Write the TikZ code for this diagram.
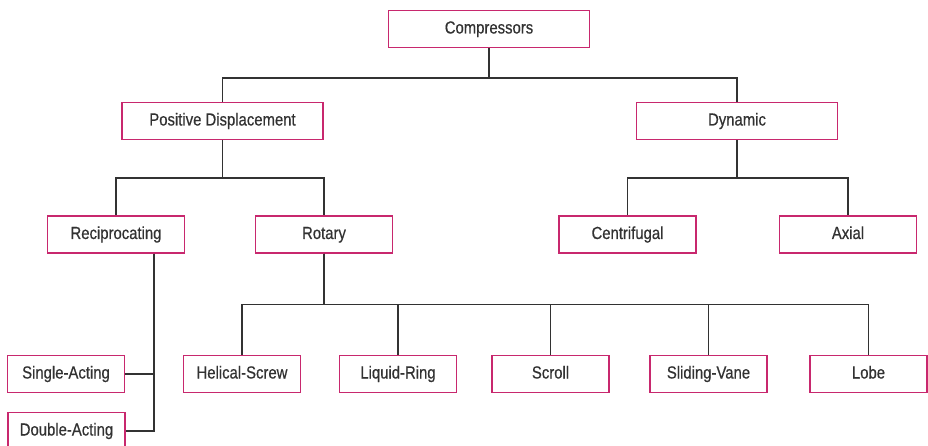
\documentclass[tikz,border=0pt]{standalone}
\usepackage{fontspec}
\setmainfont[FakeStretch=0.85,FakeBold=0.5]{Liberation Sans}
\usetikzlibrary{positioning}
\definecolor{boxpink}{RGB}{200,40,110}
\definecolor{linegray}{RGB}{50,50,50}
\begin{document}
\begin{tikzpicture}[
    x=1pt, y=-1pt,
    box/.style = {draw=boxpink, line width=1.4pt, fill=white, text=linegray, inner sep=0pt,
                  text height=12.5pt, text depth=3.5pt,
                  minimum height=37pt, font=\fontsize{17.5}{20}\selectfont},
    wide/.style = {box, minimum width=201pt},
    mid/.style = {box, minimum width=137pt},
    small/.style = {box, minimum width=117pt},
    link/.style = {draw=linegray, line width=1.4pt}
  ]
  \useasboundingbox (0,0) rectangle (928,446);
  % top levels
  \node[wide] (comp) at (489,29) {Compressors};
  \node[wide] (posdisp) at (222.5,121) {Positive Displacement};
  \node[wide] (dyn) at (737,121) {Dynamic};
  \node[mid] (recip) at (116,234.5) {Reciprocating};
  \node[mid] (rotary) at (324,234.5) {Rotary};
  \node[mid] (centrif) at (627.5,234.5) {Centrifugal};
  \node[mid] (axial) at (848,234.5) {Axial};
  % reciprocating types
  \node[small] (single) at (66,374) {Single-Acting};
  \node[small] (double) at (66.5,431) {Double-Acting};
  % rotary types
  \node[small] (helical) at (242,374) {Helical-Screw};
  \node[small] (liquid) at (398,374) {Liquid-Ring};
  \node[small] (scroll) at (550.5,374) {Scroll};
  \node[small] (sliding) at (708.5,374) {Sliding-Vane};
  \node[small] (lobe) at (868.5,374) {Lobe};
  \draw[link] (comp.south) -- ++(0,30) -| (posdisp.north);
  \draw[link] (comp.south) -- ++(0,30) -| (dyn.north);
  \draw[link] (posdisp.south) -- ++(0,38) -| (recip.north);
  \draw[link] (posdisp.south) -- ++(0,38) -| (rotary.north);
  \draw[link] (dyn.south) -- ++(0,38) -| (centrif.north);
  \draw[link] (dyn.south) -- ++(0,38) -| (axial.north);
  \draw[link] ([xshift=38pt]recip.south) |- (single.east);
  \draw[link] ([xshift=38pt]recip.south) |- (double.east);
  \foreach \t in {helical,liquid,scroll,sliding,lobe}
    \draw[link] (rotary.south) -- ++(0,51) -| (\t.north);
\end{tikzpicture}
\end{document}
